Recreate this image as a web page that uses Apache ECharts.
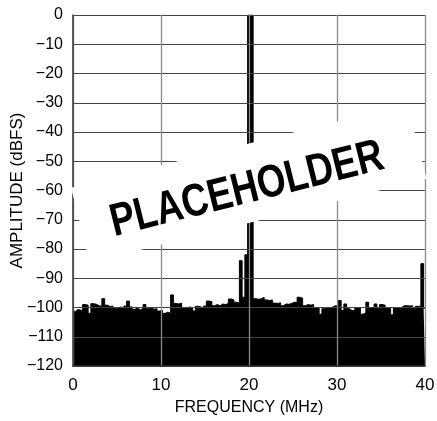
<!DOCTYPE html>
<html>
<head>
<meta charset="utf-8">
<script src="https://cdn.jsdelivr.net/npm/echarts@6/dist/echarts.min.js"></script>
<style>html,body{margin:0;padding:0;background:#fff}#c{width:437px;height:421px}</style>
</head>
<body>
<div id="c"></div>
<script>
// FFT spectrum, 128 bins over 0–40 MHz (bin width 0.3125 MHz), values in dBFS
const binWidthMHz = 0.3125;
const amplitudeDbfs = [
  -101, -101.5, -100.8, -101.2, -99, -99.2, -102, -98.7, -98.9, -99.4,
  -99.6, -97, -99.2, -99.7, -99.5, -100.3, -100.2, -99.8, -100.4, -99.5,
  -97.8, -99.8, -100.6, -100.2, -100.8, -100.3, -99, -100.4, -100, -100.6,
  -100.4, -101.2, -101, -102, -101.6, -102, -95.7, -98.6, -98.8, -98.5,
  -100, -100.3, -99.8, -100.2, -101.2, -99.6, -99.8, -100.2, -99.5, -97.8,
  -98, -99.4, -99, -99.4, -98.8, -99, -98.6, -97.1, -97.4, -98.2,
  -98.5, -84, -96.5, -82, 0, 0, -97, -97.2, -97, -96.5,
  -97.4, -97.6, -97.4, -98.5, -98.6, -98.4, -99.4, -98.8, -98.9, -98.6,
  -98.2, -98.3, -96.5, -96.8, -99.4, -99, -99.2, -99, -100, -100.2,
  -102.3, -100.4, -100, -100.2, -99.8, -99.4, -99.5, -97.6, -101, -98.8,
  -100.4, -101, -101, -100, -100.2, -102.3, -101.8, -98.2, -100, -100.2,
  -98.8, -100.4, -99, -99.2, -100, -100.2, -102.5, -100, -100.2, -100,
  -99.4, -99.4, -99.5, -99.4, -100.4, -99.6, -99.6, -85, -100.2
];
const xTicks = [0, 10, 20, 30, 40];
const yTicks = [-120, -110, -100, -90, -80, -70, -60, -50, -40, -30, -20, -10, 0];
const xTitle = 'FREQUENCY (MHz)';
const yTitle = 'AMPLITUDE (dBFS)';
const overlayText = 'PLACEHOLDER';

const seriesData = amplitudeDbfs.map((v, i) => [i * binWidthMHz, v]);
const FONT = '"Liberation Sans", Arial, sans-serif';
const fmt = v => (v < 0 ? '\u2212' + Math.abs(v) : String(v));

const chart = echarts.init(document.getElementById('c'), null, {renderer: 'canvas'});
const ang = 14 * Math.PI / 180;
chart.setOption({
  animation: false,
  backgroundColor: '#fff',
  grid: {left: 73, top: 15, right: 12, bottom: 55, containLabel: false, outerBoundsMode: 'none'},
  xAxis: {
    type: 'value', min: xTicks[0], max: xTicks[xTicks.length - 1], interval: 10,
    z: 5,
    axisLine: {show: true, onZero: false, lineStyle: {color: '#333', width: 1.5}},
    axisTick: {show: false},
    axisLabel: {color: '#000', fontFamily: FONT, fontSize: 17, margin: 11, formatter: fmt},
    splitLine: {show: true, lineStyle: {color: '#8a8a8a', width: 1.3}},
    name: xTitle, nameLocation: 'middle', nameGap: 34, nameMoveOverlap: false,
    nameTextStyle: {color: '#000', fontFamily: FONT, fontSize: 16}
  },
  yAxis: {
    type: 'value', min: yTicks[0], max: yTicks[yTicks.length - 1], interval: 10,
    z: 5,
    axisLine: {show: true, lineStyle: {color: '#333', width: 1.5}},
    axisTick: {show: false},
    axisLabel: {color: '#000', fontFamily: FONT, fontSize: 16, margin: 10, formatter: fmt},
    splitLine: {show: true, lineStyle: {color: '#444', width: 1}},
    name: yTitle, nameLocation: 'middle', nameGap: 47, nameMoveOverlap: false,
    nameTextStyle: {color: '#000', fontFamily: FONT, fontSize: 17}
  },
  series: [{
    type: 'line', data: seriesData, step: 'middle', symbol: 'none',
    lineStyle: {color: '#000', width: 1},
    areaStyle: {color: '#000', opacity: 1, origin: 'start'},
    z: 2
  }],
  graphic: [
    {type: 'rect', x: 248.75, y: 183.25, rotation: ang, z: 100,
     shape: {x: -173.5, y: -38.5, width: 347, height: 77},
     style: {fill: '#fff'}},
    {type: 'text', x: 247, y: 190, rotation: ang, scaleX: 0.8, scaleY: 1, z: 101,
     style: {text: overlayText, fill: '#000', fontSize: 46, fontWeight: 'bold', fontFamily: FONT,
             align: 'center', verticalAlign: 'middle'}}
  ]
});
</script>
</body>
</html>
